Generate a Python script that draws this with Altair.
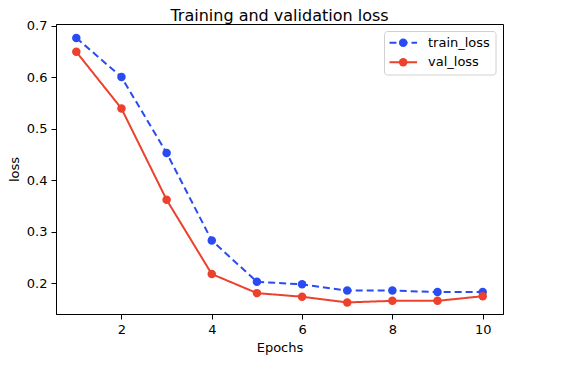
import altair as alt
import pandas as pd

epochs = [1, 2, 3, 4, 5, 6, 7, 8, 9, 10]
train_loss = [0.676, 0.600, 0.453, 0.283, 0.203, 0.198, 0.186, 0.186, 0.183, 0.183]
val_loss = [0.649, 0.539, 0.362, 0.218, 0.181, 0.174, 0.163, 0.166, 0.166, 0.175]
series_names = ["train_loss", "val_loss"]
series_colors = ["#2b4bf2", "#ec412d"]
x_ticks = [2, 4, 6, 8, 10]
y_ticks = [0.2, 0.3, 0.4, 0.5, 0.6, 0.7]

df = pd.DataFrame({
    "epoch": epochs * 2,
    "loss": train_loss + val_loss,
    "series": [series_names[0]] * len(epochs) + [series_names[1]] * len(epochs),
})

FONT = "DejaVu Sans"

x = alt.X("epoch:Q", title="Epochs",
          scale=alt.Scale(domain=[0.55, 10.45], nice=False, zero=False),
          axis=alt.Axis(values=x_ticks, format="d"))
y = alt.Y("loss:Q", title="loss",
          scale=alt.Scale(domain=[0.1405, 0.703], nice=False, zero=False),
          axis=alt.Axis(values=y_ticks, format=".1f"))
color = alt.Color("series:N", scale=alt.Scale(domain=series_names, range=series_colors), legend=None)
dash = alt.StrokeDash("series:N", scale=alt.Scale(domain=series_names, range=[[7, 4], [1, 0]]), legend=None)

base = alt.Chart(df)
lines = base.mark_line(strokeWidth=2).encode(x=x, y=y, color=color, strokeDash=dash, detail="series:N")
points = base.mark_point(filled=True, size=72, opacity=1).encode(x=x, y=y, color=color)

# legend (manual, matplotlib-like)
leg_box = alt.Chart(alt.Data(values=[{"k": 1}])).mark_rect(
    fill="white", stroke="#cccccc", strokeWidth=1, cornerRadius=3, opacity=0.9
).encode(x=alt.value(328.5), x2=alt.value(440), y=alt.value(7.5), y2=alt.value(51))

leg_layers = [leg_box]
row_y = [18.7, 38.3]
dashes = [[7, 4], [1, 0]]
for name, col, ry, dsh in zip(series_names, series_colors, row_y, dashes):
    d = alt.Data(values=[{"label": name}])
    leg_layers.append(alt.Chart(d).mark_rule(color=col, strokeWidth=2, strokeDash=dsh).encode(
        x=alt.value(333.5), x2=alt.value(361), y=alt.value(ry)))
    leg_layers.append(alt.Chart(d).mark_point(filled=True, size=72, opacity=1, color=col).encode(
        x=alt.value(347.2), y=alt.value(ry)))
    leg_layers.append(alt.Chart(d).mark_text(align="left", baseline="middle", fontSize=13, font=FONT, color="black").encode(
        x=alt.value(372), y=alt.value(ry), text="label:N"))

chart = alt.layer(lines, points, *leg_layers).properties(
    width=447,
    height=290,
    title=alt.TitleParams("Training and validation loss", fontSize=16, font=FONT,
                          fontWeight="normal", anchor="middle", offset=4, color="black",
                          dy=8),
    autosize=alt.AutoSizeParams(type="none"),
    padding={"left": 48, "top": 16, "right": 60, "bottom": 45},
).configure_view(
    stroke="black", strokeWidth=1
).configure_axis(
    grid=False,
    domainColor="black",
    domainWidth=1,
    tickColor="black",
    tickWidth=1,
    tickSize=5,
    labelFont=FONT,
    labelFontSize=13,
    labelColor="black",
    labelPadding=4,
    titleFont=FONT,
    titleFontSize=13,
    titleFontWeight="normal",
    titleColor="black",
    titlePadding=5,
)

chart.save("out.html", embed_options={"renderer": "svg", "actions": False})
